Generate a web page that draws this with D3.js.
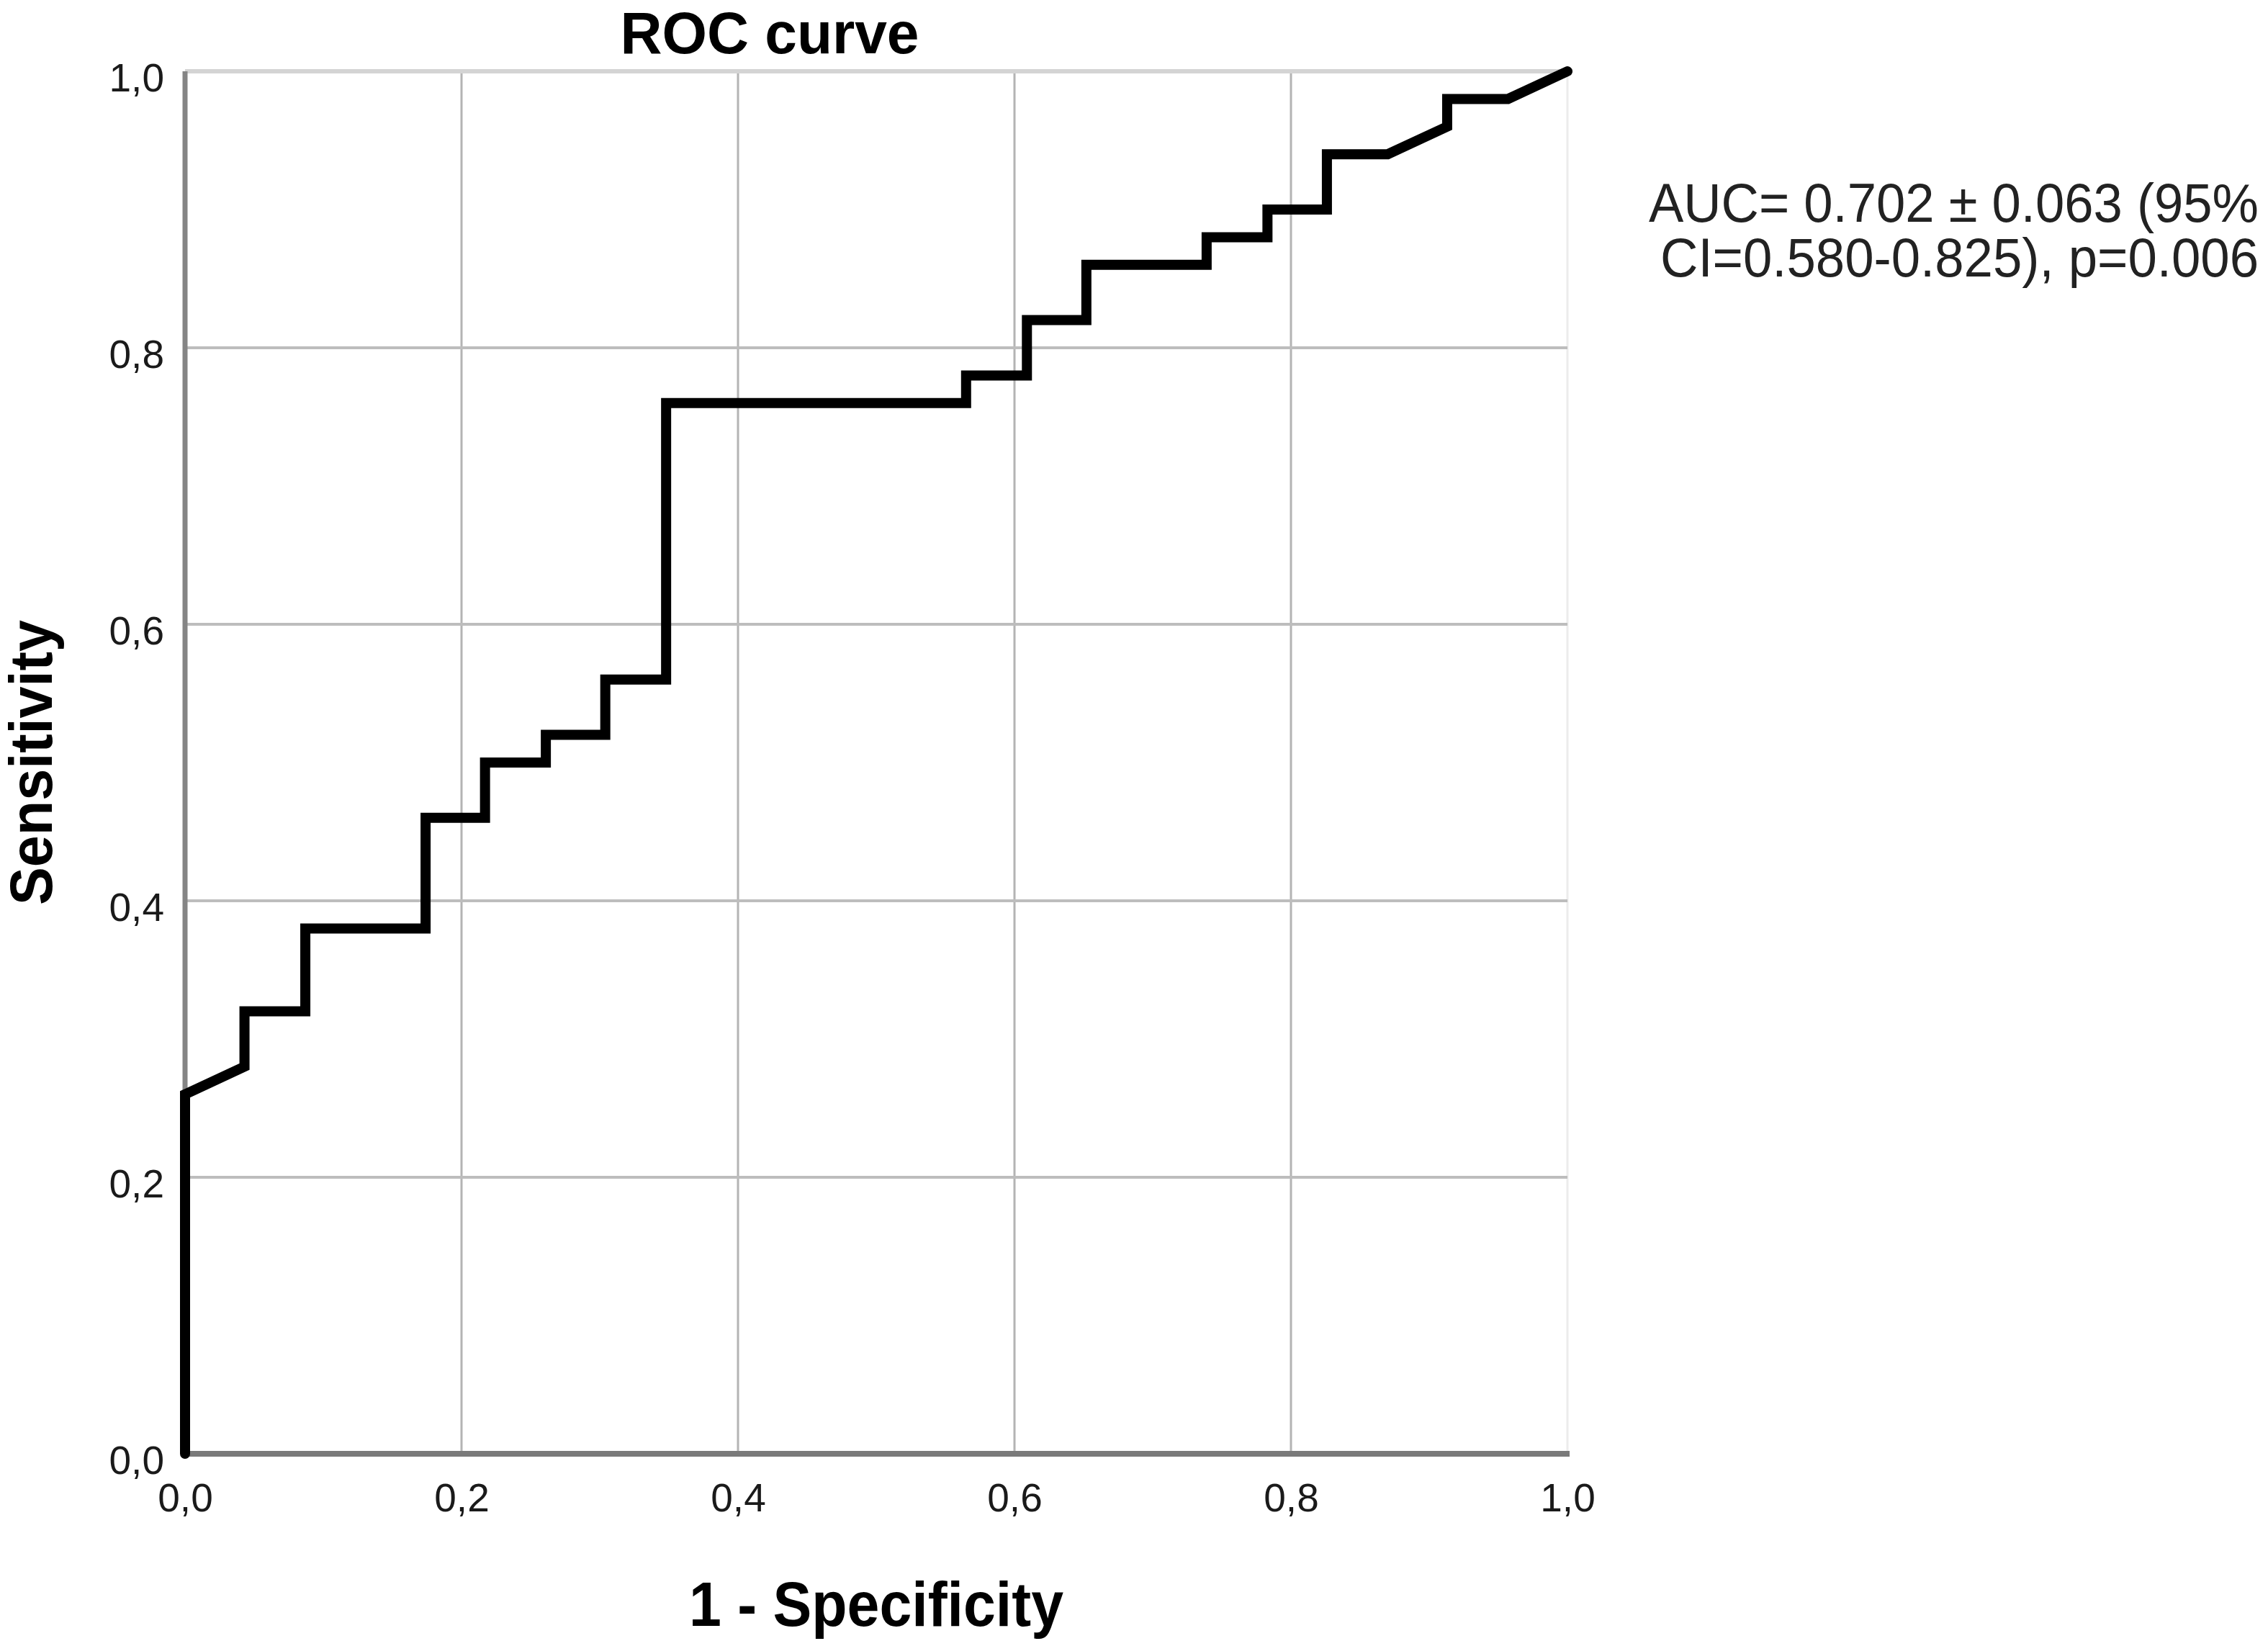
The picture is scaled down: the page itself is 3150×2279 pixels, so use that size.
<!DOCTYPE html>
<html>
<head>
<meta charset="utf-8">
<script src="https://cdn.jsdelivr.net/npm/d3@7"></script>
<style>
  html, body { margin: 0; padding: 0; background: #fff; }
  svg { display: block; }
  text { font-family: "Liberation Sans", Arial, Helvetica, sans-serif; }
</style>
</head>
<body>
<script>
// ---- Data ----
const fpr = [0, 0, 0.043, 0.043, 0.087, 0.087, 0.174, 0.174, 0.217, 0.217, 0.261, 0.261,
             0.304, 0.304, 0.348, 0.348, 0.565, 0.565, 0.609, 0.609, 0.652, 0.652,
             0.739, 0.739, 0.783, 0.783, 0.826, 0.826, 0.870, 0.913, 0.913, 0.957, 1.0];
const tpr = [0, 0.26, 0.28, 0.32, 0.32, 0.38, 0.38, 0.46, 0.46, 0.50, 0.50, 0.52,
             0.52, 0.56, 0.56, 0.76, 0.76, 0.78, 0.78, 0.82, 0.82, 0.86,
             0.86, 0.88, 0.88, 0.90, 0.90, 0.94, 0.94, 0.96, 0.98, 0.98, 1.0];
const tickValues = [0, 0.2, 0.4, 0.6, 0.8, 1.0];
const tickLabels = ["0,0", "0,2", "0,4", "0,6", "0,8", "1,0"];
const titleText = "ROC curve";
const xTitle = "1 - Specificity";
const yTitle = "Sensitivity";
const annotation = ["AUC= 0.702 \u00B1 0.063 (95%", "CI=0.580-0.825), p=0.006"];

// ---- Layout ----
const W = 3150, H = 2279;
const plot = { left: 257, top: 99, width: 1920, height: 1920 };

const svg = d3.select("body").append("svg")
  .attr("width", W).attr("height", H)
  .attr("viewBox", `0 0 ${W} ${H}`);
svg.append("rect").attr("width", W).attr("height", H).attr("fill", "#fff");

const x = d3.scaleLinear().domain([0, 1]).range([plot.left, plot.left + plot.width]);
const y = d3.scaleLinear().domain([0, 1]).range([plot.top + plot.height, plot.top]);

// Gridlines
const grid = svg.append("g");
tickValues.filter(v => v > 0).forEach(v => {
  grid.append("line")
    .attr("x1", x(v)).attr("x2", x(v))
    .attr("y1", y(1)).attr("y2", y(0))
    .attr("stroke", v === 1 ? "#ececec" : "#b4b4b4")
    .attr("stroke-width", 3);
});
tickValues.filter(v => v > 0).forEach(v => {
  grid.append("line")
    .attr("x1", x(0)).attr("x2", x(1))
    .attr("y1", y(v)).attr("y2", y(v))
    .attr("stroke", v === 1 ? "#d4d4d4" : "#bdbdbd")
    .attr("stroke-width", v === 1 ? 6 : 4);
});

// Axes lines
svg.append("line")
  .attr("x1", x(0)).attr("x2", x(0)).attr("y1", y(1)).attr("y2", y(0))
  .attr("stroke", "#858585").attr("stroke-width", 7);
svg.append("line")
  .attr("x1", x(0)).attr("x2", x(1) + 3).attr("y1", y(0)).attr("y2", y(0))
  .attr("stroke", "#7a7a7a").attr("stroke-width", 8);

// Tick labels via d3 axes (domain & tick lines hidden)
const fmt = d => tickLabels[tickValues.indexOf(d)];
const xAxis = svg.append("g")
  .attr("transform", `translate(0, ${y(0)})`)
  .call(d3.axisBottom(x).tickValues(tickValues).tickFormat(fmt).tickSize(0).tickPadding(0));
xAxis.select(".domain").remove();
xAxis.selectAll("text")
  .attr("y", 80).attr("dy", null)
  .attr("font-size", 55).attr("fill", "#1a1a1a")
  .attr("font-family", "'Liberation Sans', Arial, sans-serif");

const yAxis = svg.append("g")
  .attr("transform", `translate(${x(0)}, 0)`)
  .call(d3.axisLeft(y).tickValues(tickValues).tickFormat(fmt).tickSize(0).tickPadding(0));
yAxis.select(".domain").remove();
yAxis.selectAll("text")
  .attr("x", -29).attr("dy", null).attr("y", 27)
  .attr("font-size", 55).attr("fill", "#1a1a1a")
  .attr("font-family", "'Liberation Sans', Arial, sans-serif");

// ROC curve
const pts = fpr.map((f, i) => [f, tpr[i]]);
const line = d3.line().x(d => x(d[0])).y(d => y(d[1]));
svg.append("path")
  .datum(pts)
  .attr("d", line)
  .attr("fill", "none")
  .attr("stroke", "#000")
  .attr("stroke-width", 14)
  .attr("stroke-linejoin", "miter")
  .attr("stroke-miterlimit", 4)
  .attr("stroke-linecap", "round");

// Title
svg.append("text")
  .attr("x", 1069).attr("y", 74)
  .attr("text-anchor", "middle")
  .attr("font-size", 82).attr("font-weight", "bold").attr("fill", "#000")
  .attr("textLength", 415).attr("lengthAdjust", "spacingAndGlyphs")
  .text(titleText);

// X axis title
svg.append("text")
  .attr("x", plot.left + plot.width / 2).attr("y", 2258)
  .attr("text-anchor", "middle")
  .attr("font-size", 88).attr("font-weight", "bold").attr("fill", "#000")
  .attr("textLength", 520).attr("lengthAdjust", "spacingAndGlyphs")
  .text(xTitle);

// Y axis title
svg.append("text")
  .attr("transform", `translate(72, ${plot.top + plot.height / 2}) rotate(-90)`)
  .attr("text-anchor", "middle")
  .attr("font-size", 84).attr("font-weight", "bold").attr("fill", "#000")
  .attr("textLength", 396).attr("lengthAdjust", "spacingAndGlyphs")
  .text(yTitle);

// Annotation
const ann = svg.append("g");
const annY = [308, 384];
const annW = [847, 831];
annotation.forEach((t, i) => {
  ann.append("text")
    .attr("x", 3137).attr("y", annY[i])
    .attr("text-anchor", "end")
    .attr("font-size", 76).attr("fill", "#222")
    .attr("textLength", annW[i]).attr("lengthAdjust", "spacingAndGlyphs")
    .text(t);
});
</script>
</body>
</html>
